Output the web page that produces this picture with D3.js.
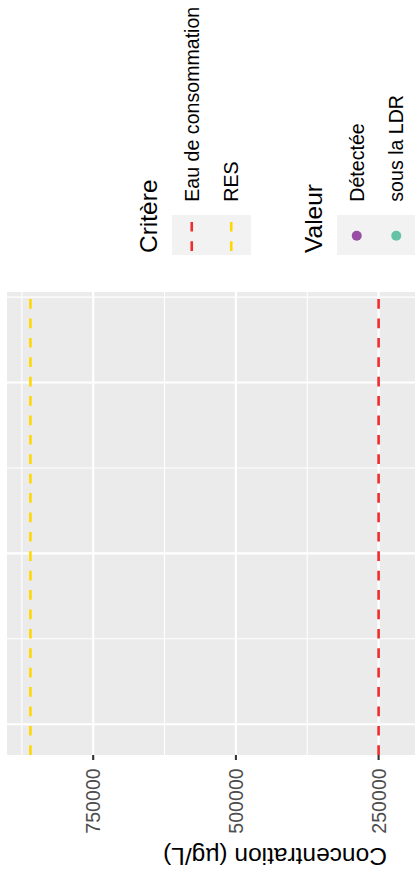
<!DOCTYPE html>
<html>
<head>
<meta charset="utf-8">
<script src="https://cdn.jsdelivr.net/npm/d3@7"></script>
<style>
  html, body { margin: 0; padding: 0; background: #ffffff; }
  svg { display: block; font-family: "Liberation Sans", Arial, Helvetica, sans-serif; }
</style>
</head>
<body>
<svg id="chart" width="415" height="877"></svg>
<script>
// Guideline criteria (µg/L)
const criteria = ["Eau de consommation", "RES"];
const criteriaValues = [250000, 860000];
const criteriaColors = ["#EE2C2C", "#FFD700"];

// Point classes shown in the legend
const valueClasses = ["Détectée", "sous la LDR"];
const valueColors = ["#984EA3", "#66C2A5"];

// Concentration axis
const concTicks = [750000, 500000, 250000, 0];
const concTickLabels = ["750000", "500000", "250000", "0"];
const concMinor = [875000, 625000, 375000, 125000];
const concDomain = [901000, -38000];
const axisTitle = "Concentration (µg/L)";

// Sampling axis (breaks only, labels lie outside the frame)
const sampleBreaks = [1, 2, 3];
const sampleMinor = [1.5, 2.5, 3.5];
const sampleDomain = [0.82, 3.53];

const legendTitles = ["Critère", "Valeur"];

// ---- layout ----
const W = 415, H = 877;
const panel = { left: 7, top: 292, bottom: 755, far: 543 };
const dash = "9.7 9.7";

const svg = d3.select("#chart");
svg.append("rect").attr("width", W).attr("height", H).attr("fill", "#ffffff");

const conc = d3.scaleLinear().domain(concDomain).range([panel.left, panel.far]);
const sample = d3.scaleLinear().domain(sampleDomain).range([panel.bottom, panel.top]);

svg.append("clipPath").attr("id", "panel-clip")
  .append("rect")
  .attr("x", panel.left).attr("y", panel.top)
  .attr("width", panel.far - panel.left).attr("height", panel.bottom - panel.top);

const plot = svg.append("g").attr("clip-path", "url(#panel-clip)");

plot.append("rect")
  .attr("x", panel.left).attr("y", panel.top)
  .attr("width", panel.far - panel.left).attr("height", panel.bottom - panel.top)
  .attr("fill", "#EBEBEB");

// minor grid
plot.selectAll("line.cminor").data(concMinor).join("line")
  .attr("class", "cminor")
  .attr("x1", d => conc(d)).attr("x2", d => conc(d))
  .attr("y1", panel.top).attr("y2", panel.bottom)
  .attr("stroke", "#ffffff").attr("stroke-width", 1.1);
plot.selectAll("line.sminor").data(sampleMinor).join("line")
  .attr("class", "sminor")
  .attr("x1", panel.left).attr("x2", panel.far)
  .attr("y1", d => sample(d)).attr("y2", d => sample(d))
  .attr("stroke", "#ffffff").attr("stroke-width", 1.1);

// major grid
plot.selectAll("line.cmajor").data(concTicks).join("line")
  .attr("class", "cmajor")
  .attr("x1", d => conc(d)).attr("x2", d => conc(d))
  .attr("y1", panel.top).attr("y2", panel.bottom)
  .attr("stroke", "#ffffff").attr("stroke-width", 2.1);
plot.selectAll("line.smajor").data(sampleBreaks).join("line")
  .attr("class", "smajor")
  .attr("x1", panel.left).attr("x2", panel.far)
  .attr("y1", d => sample(d)).attr("y2", d => sample(d))
  .attr("stroke", "#ffffff").attr("stroke-width", 2.1);

// criterion lines
plot.selectAll("line.crit").data(criteriaValues).join("line")
  .attr("class", "crit")
  .attr("x1", d => conc(d)).attr("x2", d => conc(d))
  .attr("y1", panel.bottom).attr("y2", panel.top)
  .attr("stroke", (d, i) => criteriaColors[i])
  .attr("stroke-width", 2.6)
  .attr("stroke-dasharray", dash);

// concentration axis: ticks and labels
const axisG = svg.append("g");
const visibleTicks = concTicks.filter(d => conc(d) <= W);
axisG.selectAll("line.tick").data(visibleTicks).join("line")
  .attr("class", "tick")
  .attr("x1", d => conc(d)).attr("x2", d => conc(d))
  .attr("y1", panel.bottom).attr("y2", panel.bottom + 5)
  .attr("stroke", "#333333").attr("stroke-width", 2.1);
axisG.selectAll("text.tl").data(visibleTicks).join("text")
  .attr("class", "tl")
  .attr("transform", d => `translate(${conc(d)},${panel.bottom + 13.3}) rotate(-90)`)
  .attr("text-anchor", "end")
  .attr("dy", "0.36em")
  .attr("font-size", 19.6)
  .attr("fill", "#4D4D4D")
  .text(d => concTickLabels[concTicks.indexOf(d)]);

svg.append("text")
  .attr("transform", `translate(${(panel.left + panel.far) / 2},847.5) rotate(180)`)
  .attr("text-anchor", "middle")
  .attr("font-size", 24.5)
  .attr("fill", "#000000")
  .text(axisTitle);

// ---- legends ----
const keySize = 39.5, keyTop = 215, keyH = 40, labelStart = 201.7;

function legend(titleX, keyX0, labels, drawKey) {
  const g = svg.append("g");
  g.append("rect")
    .attr("x", keyX0).attr("y", keyTop)
    .attr("width", keySize * labels.length).attr("height", keyH)
    .attr("fill", "#F2F2F2");
  labels.forEach((lab, i) => {
    const cx = keyX0 + keySize * (i + 0.5);
    drawKey(g, cx, i);
    g.append("text")
      .attr("transform", `translate(${cx + 7.2},${labelStart}) rotate(-90)`)
      .attr("font-size", 19.6)
      .attr("fill", "#000000")
      .text(lab);
  });
  return g;
}

const g1 = legend(157, 172, criteria, (g, cx, i) => {
  g.append("line")
    .attr("x1", cx).attr("x2", cx)
    .attr("y1", keyTop + keyH - 4).attr("y2", keyTop + 4)
    .attr("stroke", criteriaColors[i]).attr("stroke-width", 2.6)
    .attr("stroke-dasharray", dash);
});
g1.append("text")
  .attr("transform", "translate(157,253) rotate(-90)")
  .attr("font-size", 24.5).attr("fill", "#000000")
  .text(legendTitles[0]);

const g2 = legend(322, 337, valueClasses, (g, cx, i) => {
  g.append("circle")
    .attr("cx", cx).attr("cy", keyTop + keyH / 2 + 0.7)
    .attr("r", 5)
    .attr("fill", valueColors[i]);
});
g2.append("text")
  .attr("transform", "translate(322,253) rotate(-90)")
  .attr("font-size", 24.5).attr("fill", "#000000")
  .text(legendTitles[1]);
</script>
</body>
</html>
